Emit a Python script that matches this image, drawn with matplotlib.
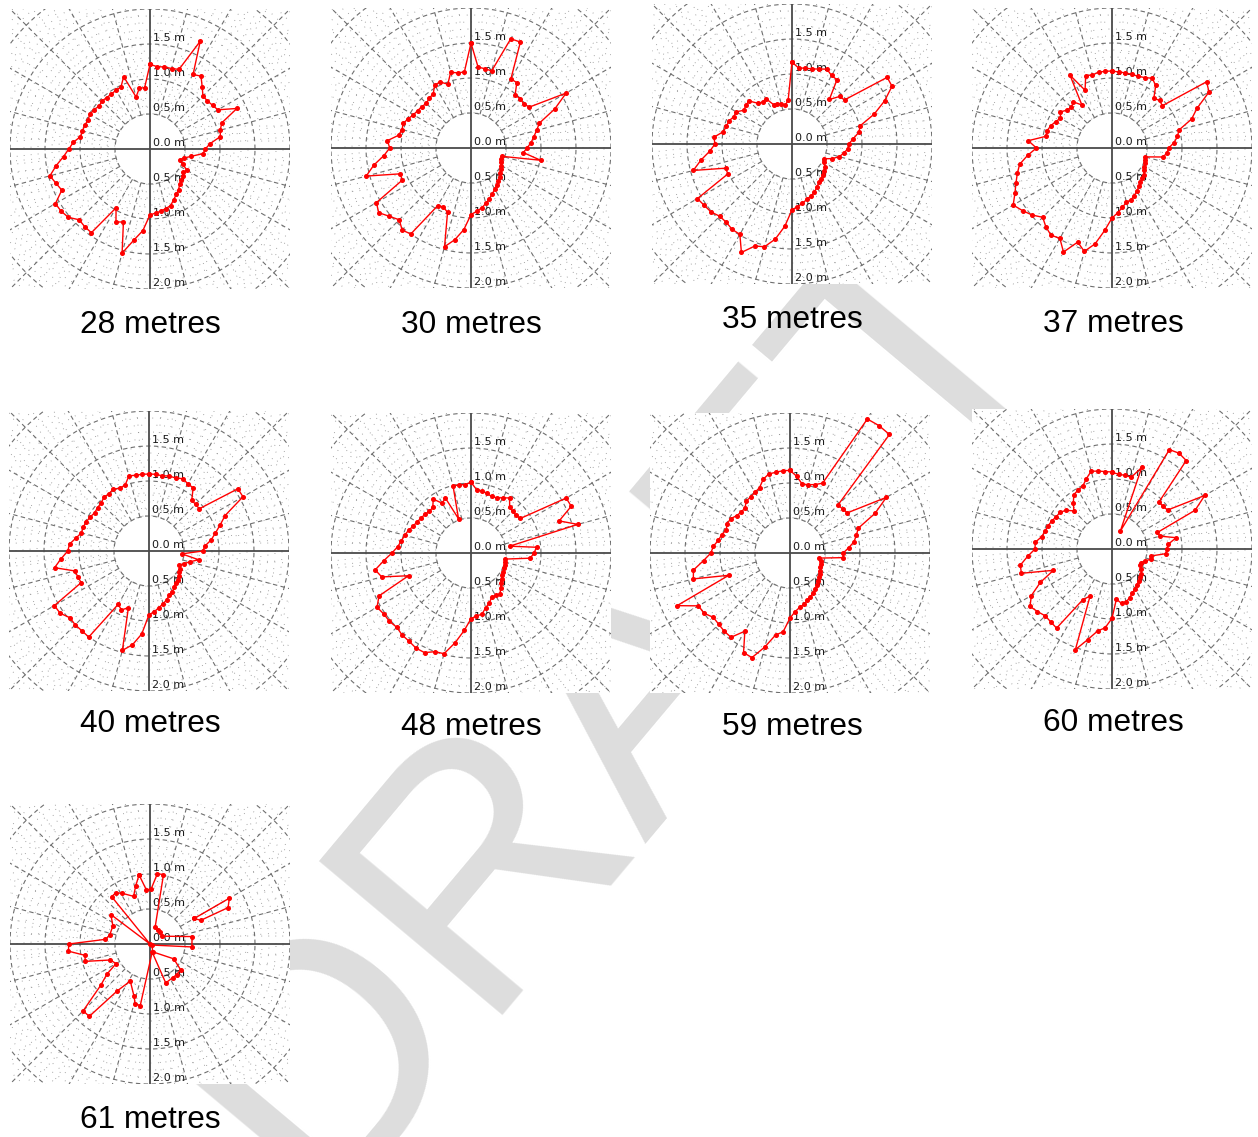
import numpy as np
import matplotlib.pyplot as plt

# bearing of each reading, degrees clockwise from north
angles = np.arange(0, 360, 5)

r28 = [1.21, 1.18, 1.19, 1.19, 1.21, 1.70, 1.23, 1.27, 1.16, 1.07, 1.07, 1.09,
       1.12, 1.37, 1.09, 1.04, 1.02, 0.86, 0.79, 0.76, 0.60, 0.50, 0.45, 0.52,
       0.61, 0.58, 0.61, 0.63, 0.66, 0.71, 0.75, 0.80, 0.86, 0.88, 0.90, 0.92,
       0.94, 1.17, 1.32, 1.54, 1.11, 1.15, 0.97, 1.46, 1.45, 1.43, 1.52, 1.55,
       1.56, 1.39, 1.43, 1.48, 1.36, 1.24, 1.16, 1.10, 1.01, 1.00, 0.99, 0.98,
       0.99, 0.98, 0.95, 0.97, 0.96, 0.96, 0.97, 0.98, 1.10, 0.77, 0.88, 0.88]

r30 = [1.50, 1.16, 1.15, 1.14, 1.66, 1.67, 1.14, 1.14, 0.98, 1.00, 0.98, 1.02,
       1.57, 1.32, 1.04, 0.97, 0.91, 0.86, 0.80, 0.75, 1.01, 0.46, 0.45, 0.47,
       0.50, 0.52, 0.55, 0.58, 0.61, 0.64, 0.68, 0.72, 0.77, 0.82, 0.87, 0.91,
       0.95, 1.17, 1.33, 1.46, 0.98, 0.93, 0.95, 1.50, 1.53, 1.45, 1.52, 1.61,
       1.56, 1.08, 1.08, 1.55, 1.41, 1.25, 1.16, 1.20, 1.05, 1.02, 1.03, 0.99,
       0.95, 0.93, 0.92, 0.90, 0.93, 0.94, 1.04, 1.04, 0.97, 1.12, 1.09, 1.09]

r35 = [1.17, 1.09, 1.10, 1.11, 1.14, 1.18, 1.13, 1.12, 0.83, 0.96, 0.98, 1.66,
       1.65, 1.46, 1.25, 1.01, 0.97, 0.88, 0.81, 0.80, 0.75, 0.70, 0.61, 0.50,
       0.52, 0.58, 0.59, 0.62, 0.65, 0.67, 0.71, 0.76, 0.79, 0.82, 0.86, 0.90,
       0.94, 1.18, 1.38, 1.52, 1.55, 1.71, 1.49, 1.49, 1.46, 1.46, 1.51, 1.53,
       1.56, 1.01, 1.01, 1.46, 1.32, 1.18, 1.10, 1.12, 1.00, 0.97, 0.96, 0.92,
       0.92, 0.84, 0.86, 0.87, 0.76, 0.73, 0.75, 0.62, 0.61, 0.59, 0.56, 0.63]

r37 = [1.10, 1.09, 1.09, 1.09, 1.09, 1.11, 1.15, 1.09, 0.93, 0.96, 0.94, 1.65,
       1.60, 1.34, 1.21, 0.99, 0.95, 0.89, 0.81, 0.79, 0.74, 0.49, 0.50, 0.52,
       0.53, 0.55, 0.60, 0.61, 0.63, 0.67, 0.71, 0.75, 0.79, 0.80, 0.86, 0.93,
       1.00, 1.18, 1.39, 1.53, 1.43, 1.64, 1.49, 1.52, 1.47, 1.40, 1.49, 1.56,
       1.63, 1.53, 1.46, 1.40, 1.34, 1.21, 1.08, 1.20, 0.96, 0.96, 0.93, 0.89,
       0.85, 0.90, 0.84, 0.82, 0.86, 0.75, 1.20, 0.91, 1.10, 1.08, 1.10, 1.10]

r40 = [1.10, 1.10, 1.09, 1.11, 1.11, 1.14, 1.11, 1.10, 0.95, 0.94, 0.94, 1.55,
       1.55, 1.20, 1.08, 0.98, 0.90, 0.80, 0.77, 0.47, 0.72, 0.60, 0.53, 0.48,
       0.51, 0.53, 0.56, 0.58, 0.59, 0.63, 0.67, 0.69, 0.74, 0.78, 0.82, 0.87,
       0.91, 1.19, 1.36, 1.47, 0.86, 0.93, 0.88, 1.50, 1.49, 1.49, 1.48, 1.55,
       1.56, 1.07, 1.08, 1.10, 1.37, 1.26, 1.16, 1.14, 1.06, 1.00, 1.00, 0.99,
       0.97, 0.95, 0.96, 0.97, 1.00, 1.00, 1.02, 0.99, 1.00, 1.11, 1.10, 1.10]

r48 = [1.01, 0.91, 0.90, 0.88, 0.86, 0.87, 0.91, 0.96, 0.86, 0.84, 0.84, 0.86,
       1.57, 1.58, 1.34, 1.58, 0.56, 0.94, 0.90, 0.85, 0.50, 0.51, 0.51, 0.52,
       0.53, 0.54, 0.57, 0.60, 0.66, 0.72, 0.70, 0.70, 0.76, 0.81, 0.89, 0.90,
       0.94, 1.11, 1.30, 1.49, 1.50, 1.57, 1.57, 1.54, 1.53, 1.50, 1.52, 1.52,
       1.55, 1.45, 0.95, 1.32, 1.39, 1.25, 1.13, 1.05, 1.01, 0.98, 0.95, 0.91,
       0.89, 0.87, 0.86, 0.84, 0.85, 0.94, 0.82, 0.87, 0.52, 0.99, 0.99, 0.98]

r59 = [1.18, 1.10, 1.00, 1.01, 1.04, 1.10, 2.21, 2.22, 2.21, 0.97, 0.98, 1.00,
       1.59, 1.34, 1.04, 0.98, 0.93, 0.84, 0.76, 0.76, 0.42, 0.46, 0.47, 0.48,
       0.50, 0.52, 0.54, 0.56, 0.60, 0.63, 0.66, 0.69, 0.72, 0.76, 0.79, 0.84,
       0.93, 1.13, 1.19, 1.39, 1.59, 1.57, 1.29, 1.47, 1.46, 1.44, 1.43, 1.50,
       1.51, 1.78, 0.93, 1.43, 1.40, 1.24, 1.13, 1.10, 1.04, 1.01, 0.97, 0.99,
       0.98, 0.93, 0.91, 0.91, 0.97, 0.98, 1.00, 1.03, 1.12, 1.17, 1.17, 1.18]

r60 = [1.10, 1.07, 1.07, 1.06, 1.24, 0.28, 1.64, 1.67, 1.65, 0.95, 0.95, 0.97,
       1.53, 1.31, 0.69, 0.71, 0.93, 0.81, 0.78, 0.77, 0.57, 0.57, 0.50, 0.46,
       0.47, 0.50, 0.55, 0.57, 0.60, 0.62, 0.66, 0.69, 0.74, 0.78, 0.79, 0.72,
       0.99, 1.13, 1.19, 1.34, 1.53, 0.74, 0.84, 1.38, 1.36, 1.35, 1.39, 1.43,
       1.33, 1.13, 0.89, 1.34, 1.33, 1.21, 1.10, 1.10, 1.02, 0.99, 0.97, 0.95,
       0.92, 0.91, 0.86, 0.77, 0.86, 0.95, 0.97, 0.99, 1.07, 1.15, 1.13, 1.11]

# 61 m scan is patchy, so it keeps its own bearings
a61 = [351, 356, 1, 6, 11, 17, 28, 40, 56, 80, 94, 120, 160, 122, 130, 139,
       146, 158, 165, 189, 194, 197, 208, 215, 220, 225, 230, 235, 240, 248,
       255, 260, 265, 270, 276, 282, 296, 307, 0, 321, 326, 331, 341, 346]
r61 = [1.00, 0.78, 0.78, 1.01, 1.01, 0.25, 0.23, 0.22, 0.20, 0.61, 0.60, 0.03,
       0.12, 0.40, 0.57, 0.58, 0.58, 0.60, 0.12, 0.89, 0.88, 0.78, 0.60, 0.82,
       1.35, 1.35, 0.92, 0.75, 0.56, 0.61, 0.96, 0.94, 1.17, 1.16, 0.64, 0.59,
       0.59, 0.70, 0.00, 0.87, 0.88, 0.83, 0.72, 0.85]
a61_spur = [60, 60, 65, 65]
r61_spur = [0.73, 1.31, 1.23, 0.80]

titles = ["28 metres", "30 metres", "35 metres", "37 metres",
          "40 metres", "48 metres", "59 metres", "60 metres", "61 metres"]

W, H = 1258, 1137
# panel centre and title centre in pixels
centres = [(150, 149), (471, 148), (792, 144), (1112, 148),
           (149, 551), (471, 553), (790, 553), (1112, 549), (150, 944)]
title_pos = [(150, 325), (471, 325), (792, 320), (1113, 324),
             (150, 724), (471, 727), (792, 727), (1113, 723), (150, 1120)]
half = 140  # 2.0 m in pixels

fig = plt.figure(figsize=(W / 100, H / 100), dpi=100)

fig.text(0.49, 0.38, "DRAFT", fontsize=250, family="Liberation Sans",
         color="#dddddd", rotation=50, ha="center", va="center", zorder=-5)


def polar_xy(ang, r):
    t = np.radians(np.asarray(ang, dtype=float))
    r = np.asarray(r, dtype=float)
    return r * np.sin(t), r * np.cos(t)


def draw_grid(ax):
    t = np.linspace(0, 2 * np.pi, 500)
    dot = dict(color="#909090", lw=0.7, ls=(0, (0.8, 7)), zorder=1)
    dash = dict(color="#6e6e6e", lw=0.8, ls=(0, (4, 3)), zorder=1)
    for rr in np.arange(0.6, 3.0, 0.1):
        if abs(rr * 2 - round(rr * 2)) < 1e-6:
            continue
        ax.plot(rr * np.cos(t), rr * np.sin(t), **dot)
    for a in range(0, 360, 5):
        if a % 15 == 0:
            continue
        x, y = polar_xy([a, a], [0.5, 3.0])
        ax.plot(x, y, **dot)
    for rr in [0.5, 1.0, 1.5, 2.0, 2.5]:
        ax.plot(rr * np.cos(t), rr * np.sin(t), **dash)
    for a in range(0, 360, 15):
        if a % 90 == 0:
            continue
        x, y = polar_xy([a, a], [0.5, 3.0])
        ax.plot(x, y, **dash)
    ax.axhline(0, color="#4a4a4a", lw=1.3, zorder=2)
    ax.axvline(0, color="#4a4a4a", lw=1.3, zorder=2)
    for v in [0.0, 0.5, 1.0, 1.5]:
        ax.text(0.04, v + 0.02, f"{v:.1f} m", fontsize=8, color="#1a1a1a",
                ha="left", va="bottom", zorder=3)
    for v in [0.5, 1.0, 1.5, 2.0]:
        ax.text(0.04, -v + 0.02, f"{v:.1f} m", fontsize=8, color="#1a1a1a",
                ha="left", va="bottom", zorder=3)


def draw_trace(ax, ang, r, closed=True):
    x, y = polar_xy(ang, r)
    if closed:
        x = np.append(x, x[0])
        y = np.append(y, y[0])
    ax.plot(x, y, color="#ff0000", lw=1.0, marker="o", ms=2.6, zorder=4)


series = [(angles, r28), (angles, r30), (angles, r35), (angles, r37),
          (angles, r40), (angles, r48), (angles, r59), (angles, r60),
          (a61, r61)]

for i, (cx, cy) in enumerate(centres):
    ax = fig.add_axes([(cx - half) / W, 1 - (cy + half) / H,
                       2 * half / W, 2 * half / H])
    ax.set_facecolor("white")
    ax.set_xlim(-2, 2)
    ax.set_ylim(-2, 2)
    ax.set_xticks([])
    ax.set_yticks([])
    for s in ax.spines.values():
        s.set_visible(False)
    draw_grid(ax)
    a, r = series[i]
    draw_trace(ax, a, r)
    if i == 8:
        draw_trace(ax, a61_spur, r61_spur)
    tx, ty = title_pos[i]
    fig.text(tx / W, 1 - ty / H, titles[i], fontsize=22.8,
             family="Liberation Sans", ha="center", va="center")

fig.savefig("out.png", dpi=100, facecolor="white")
